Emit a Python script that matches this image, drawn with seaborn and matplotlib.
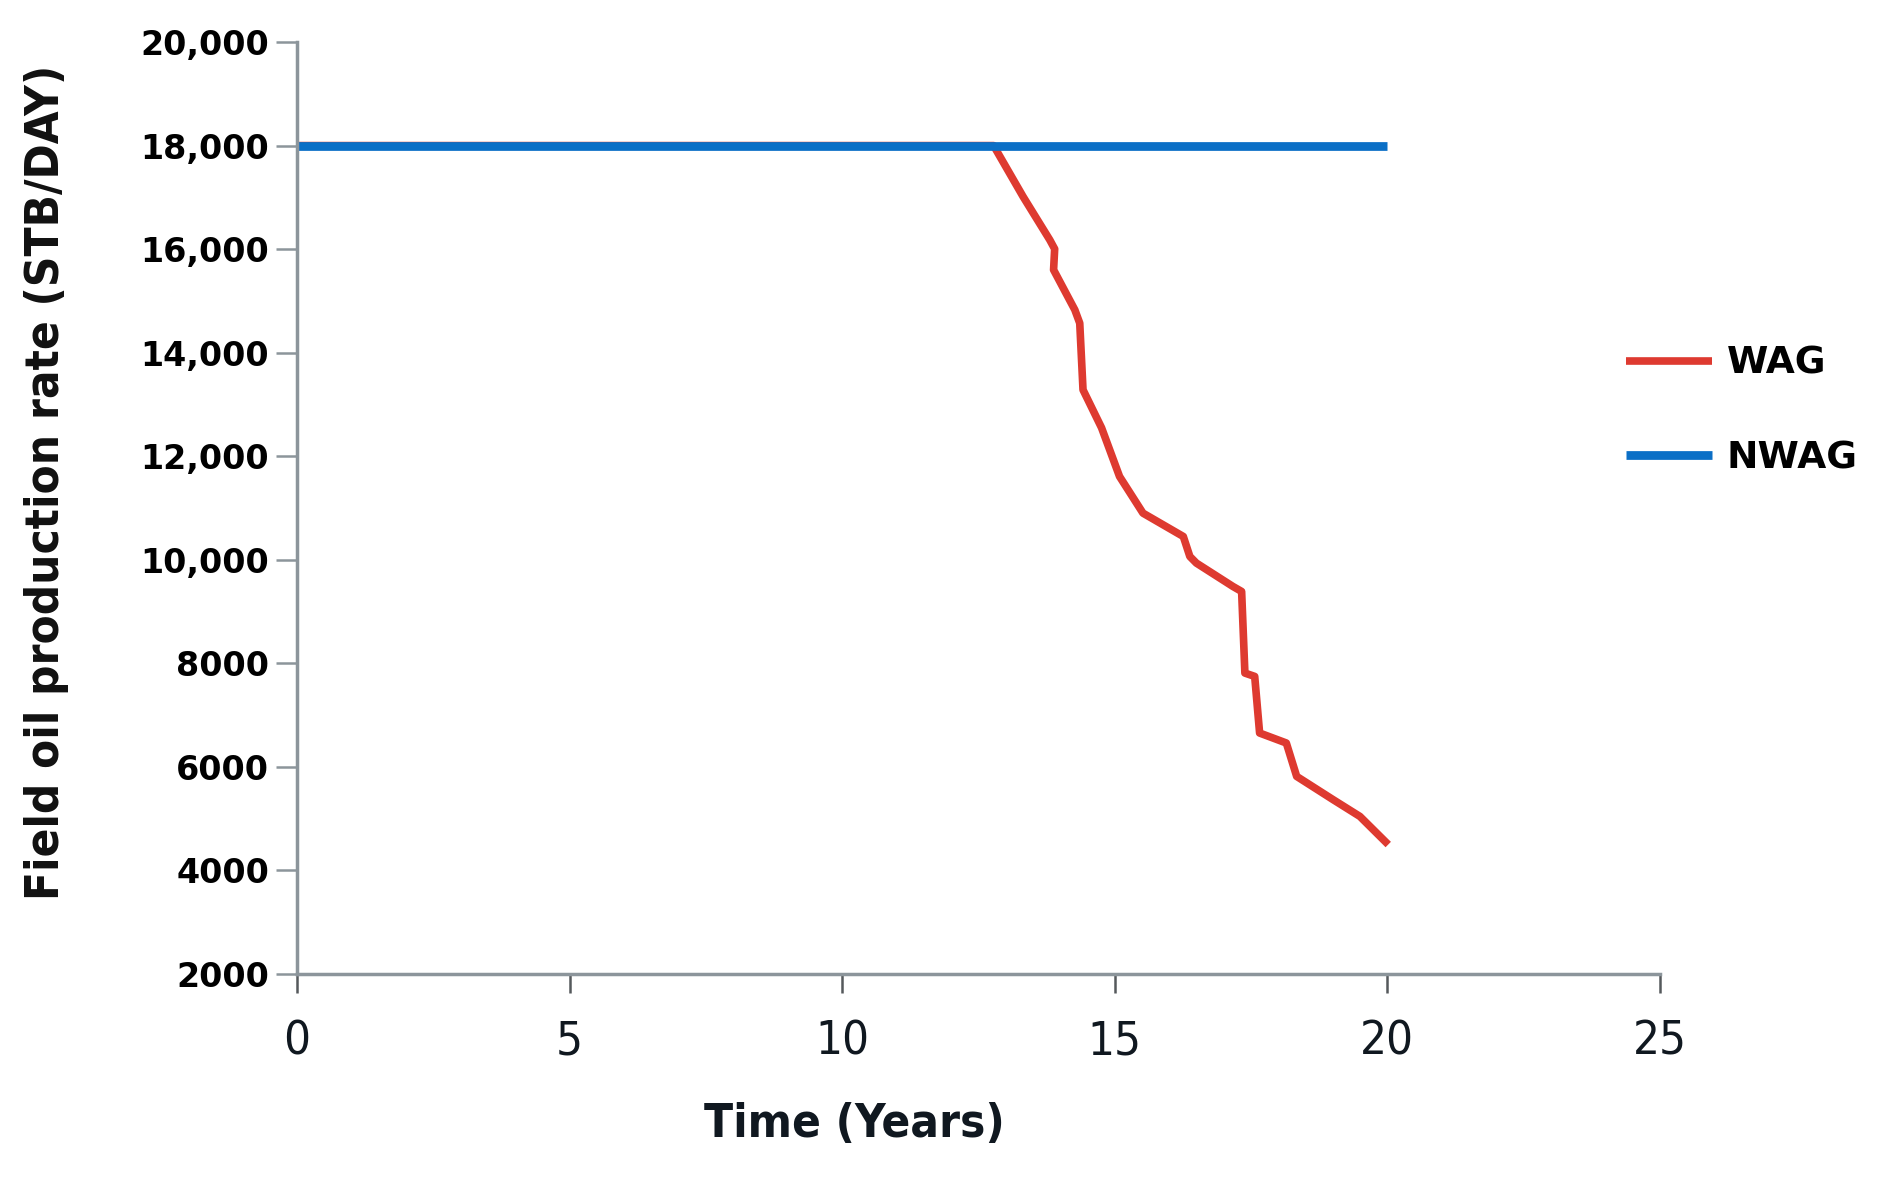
import matplotlib
matplotlib.use("Agg")
import matplotlib.pyplot as plt
import seaborn as sns
import pandas as pd

# ---- data ----
wag_years = [0, 12.78, 13.32, 13.81, 13.90, 13.88, 14.27, 14.36, 14.42, 14.76, 15.09,
             15.52, 16.26, 16.38, 16.50, 17.17, 17.33, 17.39, 17.57, 17.66, 18.15,
             18.34, 19.01, 19.50, 20.02]
wag_rate = [18000, 18000, 17015, 16179, 16004, 15600, 14827, 14570, 13283, 12550, 11609,
            10901, 10450, 10064, 9936, 9485, 9388, 7812, 7747, 6654, 6461,
            5816, 5366, 5043, 4500]
nwag_years = [0, 20]
nwag_rate = [18000, 18000]

y_ticks = [2000, 4000, 6000, 8000, 10000, 12000, 14000, 16000, 18000, 20000]
y_tick_labels = ["2000", "4000", "6000", "8000", "10,000", "12,000", "14,000",
                 "16,000", "18,000", "20,000"]
x_ticks = [0, 5, 10, 15, 20, 25]
x_tick_labels = ["0", "5", "10", "15", "20", "25"]

series_names = ["WAG", "NWAG"]
colors = {"WAG": "#DE3A30", "NWAG": "#0B6FC6"}

df_wag = pd.DataFrame({"Time": wag_years, "Rate": wag_rate})
df_nwag = pd.DataFrame({"Time": nwag_years, "Rate": nwag_rate})

# ---- style ----
sns.set_theme(style="white")
plt.rcParams["font.family"] = ["DejaVu Sans"]

fig = plt.figure(figsize=(18.86, 11.81), dpi=100)
ax = fig.add_axes([0.1575, 0.1753, 0.7225, 0.7891])

sns.lineplot(data=df_wag, x="Time", y="Rate", ax=ax, color=colors["WAG"],
             linewidth=5.5, sort=False, estimator=None, label=series_names[0],
             solid_capstyle="butt", solid_joinstyle="round")
sns.lineplot(data=df_nwag, x="Time", y="Rate", ax=ax, color=colors["NWAG"],
             linewidth=6.3, sort=False, estimator=None, label=series_names[1],
             solid_capstyle="butt")

ax.set_xlim(0, 25)
ax.set_ylim(2000, 20000)

cond = dict(family=["DejaVu Sans"], fontstretch="condensed")

ax.set_yticks(y_ticks)
ax.set_yticklabels(y_tick_labels, fontsize=24, fontweight="bold",
                   family=["DejaVu Sans"], color="black")
ax.set_xticks(x_ticks)
ax.set_xticklabels(x_tick_labels, fontsize=34, color="#101820", **cond)

ax.tick_params(axis="y", direction="out", length=15, width=1.8, color="#8c959b",
               pad=5, left=True)
ax.tick_params(axis="x", direction="out", length=14, width=1.8, color="#55595c",
               pad=19, bottom=True)

for side in ["top", "right"]:
    ax.spines[side].set_visible(False)
for side in ["left", "bottom"]:
    ax.spines[side].set_color("#8c959b")
    ax.spines[side].set_linewidth(2.5)

ax.set_xlabel("Time (Years)", fontsize=34, fontweight="bold", color="#101820", **cond)
ax.xaxis.set_label_coords(0.409, -0.137)
ax.set_ylabel("Field oil production rate (STB/DAY)", fontsize=34, fontweight="bold",
              color="#111111", **cond)
ax.yaxis.set_label_coords(-0.167, 0.527)

handles, labels = ax.get_legend_handles_labels()
if ax.get_legend():
    ax.get_legend().remove()
leg = fig.legend(handles, labels, loc="center left", bbox_to_anchor=(0.862, 0.652),
                 bbox_transform=fig.transFigure, frameon=False, borderpad=0,
                 borderaxespad=0, handlelength=2.3, handletextpad=0.4,
                 labelspacing=1.55, prop={"size": 27, "weight": "bold"})
for t in leg.get_texts():
    t.set_color("black")

fig.savefig("out.png", dpi=100)
